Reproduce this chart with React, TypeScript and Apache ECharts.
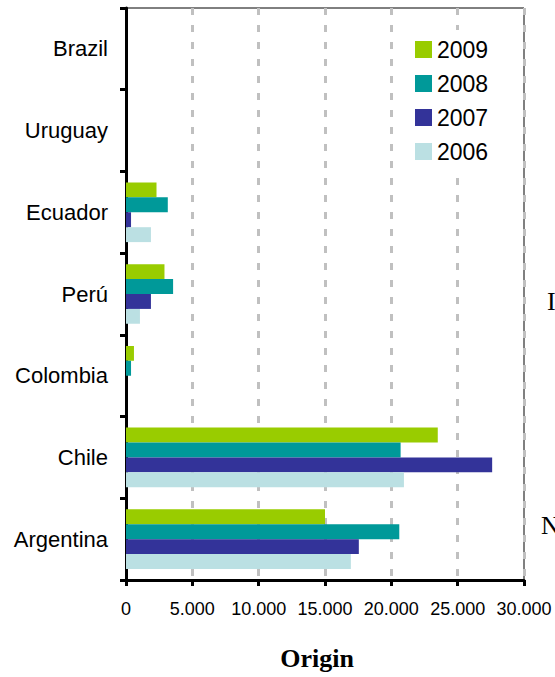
import React, { useEffect, useRef } from "react";
import * as echarts from "echarts";

const categories = ["Argentina", "Chile", "Colombia", "Perú", "Ecuador", "Uruguay", "Brazil"];
const years = ["2009", "2008", "2007", "2006"];
const values2009 = [15000, 23500, 600, 2900, 2300, 0, 0];
const values2008 = [20600, 20700, 380, 3550, 3150, 0, 0];
const values2007 = [17550, 27600, 0, 1880, 380, 0, 0];
const values2006 = [16950, 20950, 0, 1050, 1880, 0, 0];
const xTicks = [0, 5000, 10000, 15000, 20000, 25000, 30000];

const colors: Record<string, string> = {
  "2009": "#99CC00",
  "2008": "#009999",
  "2007": "#333399",
  "2006": "#BBE0E3",
};

const seriesValues: Record<string, number[]> = {
  "2009": values2009,
  "2008": values2008,
  "2007": values2007,
  "2006": values2006,
};

const SANS = "'Liberation Sans', Arial, sans-serif";
const SERIF = "'Liberation Serif', 'Times New Roman', serif";

function fmt(v: number): string {
  return String(Math.round(v)).replace(/\B(?=(\d{3})+(?!\d))/g, ".");
}

export default function App() {
  const ref = useRef<HTMLDivElement>(null);
  useEffect(() => {
    if (!ref.current) return;
    const chart = echarts.init(ref.current, undefined, { renderer: "svg" });
    chart.setOption({
      animation: false,
      backgroundColor: "#fff",
      grid: {
        left: 126,
        right: 31,
        top: 8,
        bottom: 97,
        show: true,
        borderColor: "#000",
        borderWidth: 1,
        backgroundColor: "transparent",
      },
      legend: {
        orient: "vertical",
        left: 407,
        top: 30,
        padding: 8,
        backgroundColor: "#fff",
        itemWidth: 17,
        itemHeight: 17,
        itemGap: 11,
        icon: "rect",
        data: years,
        textStyle: { fontFamily: SANS, fontSize: 23, color: "#000" },
      },
      xAxis: {
        type: "value",
        min: xTicks[0],
        max: xTicks[xTicks.length - 1],
        interval: 5000,
        axisLine: { show: true, lineStyle: { color: "#000", width: 3 } },
        axisTick: { show: true, length: 6, lineStyle: { color: "#000", width: 3 } },
        axisLabel: {
          margin: 20,
          fontFamily: SANS,
          fontSize: 18,
          color: "#000",
          formatter: (v: number) => fmt(v),
        },
        splitLine: {
          show: true,
          lineStyle: { color: "#c0c0c0", width: 3, type: [7, 10] },
        },
      },
      yAxis: {
        type: "category",
        data: categories,
        axisLine: { show: true, lineStyle: { color: "#000", width: 3 } },
        axisTick: { show: true, length: 6, lineStyle: { color: "#000", width: 3 } },
        axisLabel: {
          margin: 18,
          fontFamily: SANS,
          fontSize: 22,
          color: "#000",
        },
        splitLine: { show: false },
      },
      series: years.map((y) => ({
        name: y,
        type: "bar",
        data: seriesValues[y],
        barGap: "0%",
        barCategoryGap: "27%",
        itemStyle: { color: colors[y] },
      })),
      graphic: [
        {
          type: "text",
          x: 317,
          y: 645,
          style: {
            text: "Origin",
            font: `bold 26px ${SERIF}`,
            fill: "#000",
            align: "center",
            verticalAlign: "top",
          },
        },
        {
          type: "text",
          x: 547,
          y: 288,
          style: { text: "I", font: `26px ${SERIF}`, fill: "#000" },
        },
        {
          type: "text",
          x: 541,
          y: 512,
          style: { text: "N", font: `26px ${SERIF}`, fill: "#000" },
        },
      ],
    });
    return () => chart.dispose();
  }, []);
  return <div ref={ref} style={{ width: 555, height: 677, position: "absolute", left: 0, top: 0 }} />;
}
